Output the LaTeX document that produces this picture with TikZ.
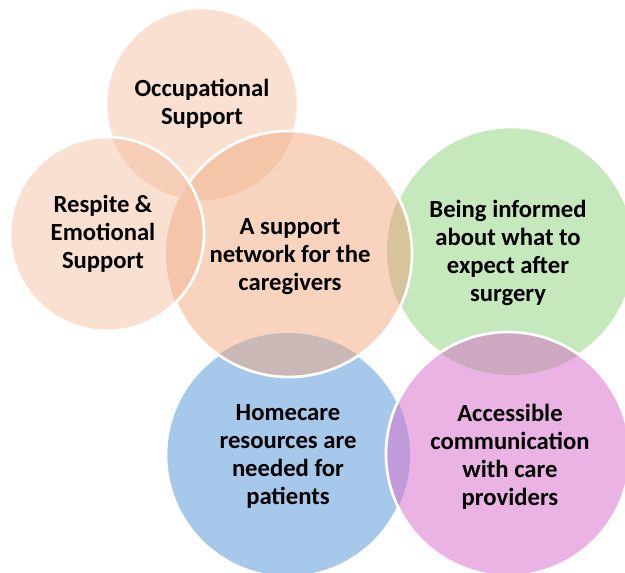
\documentclass[tikz,border=0pt]{standalone}
\usepackage{fontspec}
\setmainfont{Carlito}

\definecolor{peachlt}{HTML}{FAE0D1}
\definecolor{peach}{HTML}{F8D3BE}
\definecolor{leaf}{HTML}{C5E9BC}
\definecolor{sky}{HTML}{A6C8EA}
\definecolor{orchid}{HTML}{EBB3E3}
\definecolor{peachdk}{HTML}{F4C5A9}
\definecolor{peachmid}{HTML}{F6CDB7}
\definecolor{khaki}{HTML}{D7C39C}
\definecolor{mauve}{HTML}{C9B8B6}
\definecolor{plum}{HTML}{CDA8C1}
\definecolor{violet}{HTML}{C09ADA}

\begin{document}
\begin{tikzpicture}[
  x=0.75pt, y=-0.75pt,
  rim/.style={draw=white, line width=2pt},
  bubbletext/.style={font=\bfseries\fontsize{18.5}{21}\selectfont, align=center, text=black}
]
  \useasboundingbox (0,0) rectangle (625,573);

  \coordinate (occ) at (202,104);
  \coordinate (res) at (107,234);
  \coordinate (net) at (289,254);
  \coordinate (inf) at (511,251);
  \coordinate (home) at (288,455);
  \coordinate (acc) at (508,454);

  \path[rim, fill=peachlt] (occ) circle (96);
  \path[rim, fill=leaf] (inf) circle (124);
  \path[rim, fill=sky] (home) circle (122);

  \fill[peach] (net) circle (123);
  \begin{scope}
    \clip (net) circle (123);
    \fill[peachdk] (occ) circle (96);
    \fill[khaki] (inf) circle (124);
    \fill[mauve] (home) circle (122);
  \end{scope}
  \draw[rim] (net) circle (123);

  \fill[peachlt] (res) circle (97);
  \begin{scope}
    \clip (res) circle (97);
    \fill[peachmid] (occ) circle (96);
    \fill[peachdk] (net) circle (123);
  \end{scope}
  \draw[rim] (res) circle (97);

  \fill[orchid] (acc) circle (122);
  \begin{scope}
    \clip (acc) circle (122);
    \fill[plum] (inf) circle (124);
    \fill[violet] (home) circle (122);
  \end{scope}
  \draw[rim] (acc) circle (122);

  \node[bubbletext] (occtxt) at (202,104) {Occupational\\Support};
  \node[bubbletext] (restxt) at (103,234) {Respite \&\\Emotional\\Support};
  \node[bubbletext] (nettxt) at (290,257) {A support\\network for the\\caregivers};
  \node[bubbletext] (inftxt) at (508,253) {Being informed\\about what to\\expect after\\surgery};
  \node[bubbletext] (hometxt) at (288,456) {Homecare\\resources are\\needed for\\patients};
  \node[bubbletext] (acctxt) at (510,457) {Accessible\\communication\\with care\\providers};
\end{tikzpicture}
\end{document}
